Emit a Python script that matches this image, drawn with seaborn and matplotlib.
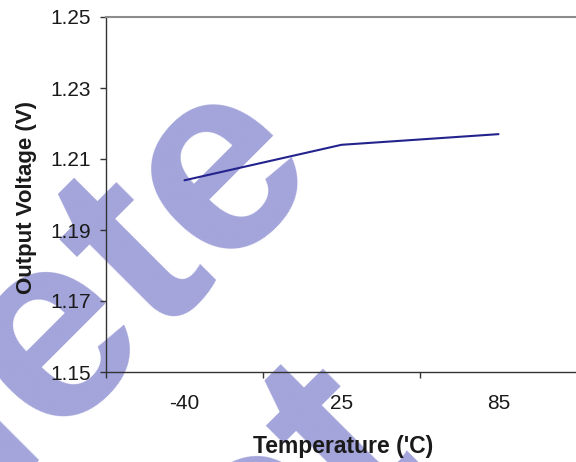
import matplotlib
matplotlib.use('Agg')
import matplotlib.pyplot as plt
import seaborn as sns
import pandas as pd

temperatures = ['-40', '25', '85']
voltages = [1.204, 1.214, 1.217]
y_ticks = [1.15, 1.17, 1.19, 1.21, 1.23, 1.25]
y_tick_labels = ['1.15', '1.17', '1.19', '1.21', '1.23', '1.25']

sns.set_style('ticks')
plt.rcParams['font.family'] = ['Liberation Sans', 'DejaVu Sans']

W, H = 576, 462
fig = plt.figure(figsize=(W / 100, H / 100), dpi=100)
ax = fig.add_axes([106 / W, 1 - 372 / H, 471 / W, 355 / H])
ax.patch.set_alpha(0)

wm_color = '#a3a4da'
fig.text(323 / W, 1 - 166 / H, 'Obsolete', rotation=45, rotation_mode='anchor',
         ha='right', va='baseline', fontsize=192, fontweight='bold',
         color=wm_color, zorder=-1)
fig.text(422 / W, 1 - 453 / H, 'Product', rotation=45, rotation_mode='anchor',
         ha='right', va='baseline', fontsize=192, fontweight='bold',
         color=wm_color, zorder=-1)

df = pd.DataFrame({'pos': list(range(len(temperatures))), 'voltage': voltages,
                   'temperature': temperatures})
sns.lineplot(data=df, x='pos', y='voltage', ax=ax, color='#23238e', lw=1.5)

ax.set_xlim(-0.5, len(temperatures) - 0.5)
ax.set_ylim(1.15, 1.25)
ax.set_yticks(y_ticks)
ax.set_yticklabels(y_tick_labels)
ax.set_xticks([i - 0.5 for i in range(len(temperatures) + 1)])
ax.set_xticklabels([])
ax.set_xticks(list(range(len(temperatures))), minor=True)
ax.set_xticklabels(temperatures, minor=True)

ax.tick_params(axis='y', which='major', direction='out', length=4.5, width=1,
               color='#333333', pad=6.5, labelsize=15, labelcolor='#1a1a1a', left=True)
ax.tick_params(axis='x', which='major', direction='out', length=4.5, width=1,
               color='#333333', bottom=True)
ax.tick_params(axis='x', which='minor', length=0, pad=15.5, labelsize=15,
               labelcolor='#1a1a1a', bottom=True)

for side in ['left', 'bottom']:
    ax.spines[side].set_color('#333333')
    ax.spines[side].set_linewidth(1.0)
ax.spines['top'].set_visible(True)
ax.spines['top'].set_color('#8c8c8c')
ax.spines['top'].set_linewidth(1.5)
ax.spines['right'].set_visible(False)

ax.set_xlabel("Temperature ('C)", fontsize=16.5, fontweight='bold', color='#1a1a1a')
ax.set_ylabel('Output Voltage (V)', fontsize=16, fontweight='bold', color='#1a1a1a')
ax.xaxis.label.set_va('center')
ax.yaxis.label.set_va('center')
ax.xaxis.set_label_coords((343 - 106) / 471, (372 - 446) / 355)
ax.yaxis.set_label_coords((27 - 106) / 471, (372 - 197) / 355)

fig.savefig('out.png', dpi=100)
